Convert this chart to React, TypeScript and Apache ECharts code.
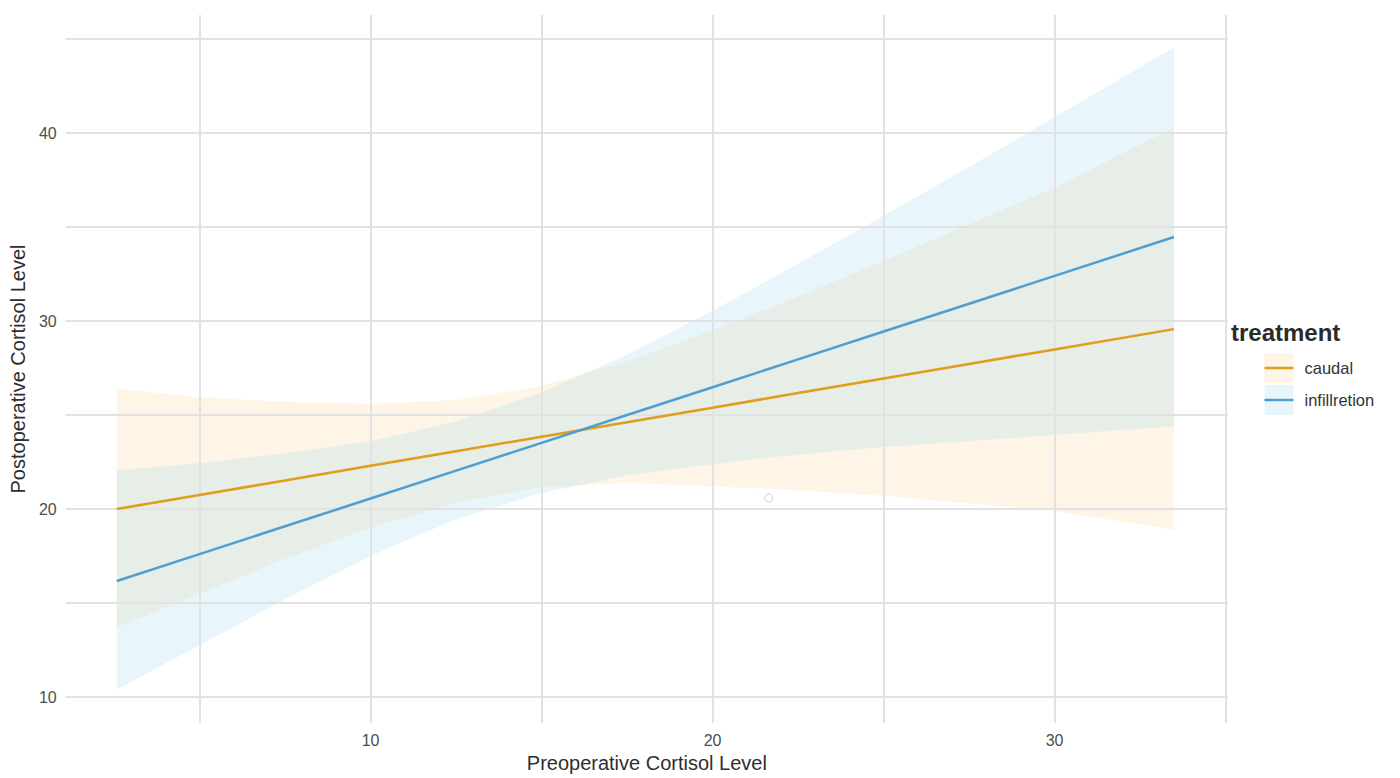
import React, { useEffect, useRef } from "react";
import * as echarts from "echarts";

const FONT = "'Liberation Sans', Arial, Helvetica, sans-serif";

// Preoperative cortisol level (x) at which the fitted lines / bands are read
const xs = [2.58, 5, 7.5, 10, 12.5, 15, 17.5, 20, 22.5, 25, 27.5, 30, 33.49];

// caudal
const caudalFit = [20.0, 20.75, 21.52, 22.3, 23.07, 23.85, 24.62, 25.39, 26.17, 26.94, 27.72, 28.49, 29.57];
const caudalLower = [13.7, 15.5, 17.35, 19.0, 20.35, 21.15, 21.4, 21.2, 21.0, 20.7, 20.3, 19.9, 18.9];
const caudalUpper = [26.4, 25.95, 25.7, 25.6, 25.8, 26.55, 27.85, 29.5, 31.3, 33.2, 35.15, 37.1, 40.3];

// infillretion
const infilFit = [16.17, 17.6, 19.08, 20.56, 22.04, 23.52, 25.0, 26.48, 27.96, 29.44, 30.92, 32.4, 34.47];
const infilLower = [10.4, 12.75, 15.2, 17.5, 19.45, 20.85, 21.8, 22.4, 22.9, 23.3, 23.6, 23.95, 24.4];
const infilUpper = [22.05, 22.45, 22.95, 23.6, 24.65, 26.2, 28.2, 30.55, 33.05, 35.6, 38.2, 40.85, 44.55];

// stray point visible in the plot
const strayPoint = [[21.64, 20.59]];

const xTicks = [10, 20, 30];
const yTicks = [10, 20, 30, 40];
const xGrid = [5, 10, 15, 20, 25, 30, 35];
const yGrid = [10, 15, 20, 25, 30, 35, 40, 45];

const groups = ["caudal", "infillretion"];
const lineColors = ["#DE9D1B", "#4F9ED1"];
const fillColors = ["rgba(245,190,90,0.15)", "rgba(120,200,240,0.17)"];

const pairs = (a: number[]) => xs.map((x, i) => [x, a[i]]);

const bandSeries = (lower: number[], upper: number[], color: string, z: number) => ({
  type: "custom",
  z,
  silent: true,
  data: [[xs[0], lower[0]]],
  renderItem: (_params: any, api: any) => {
    const top = xs.map((x, i) => api.coord([x, upper[i]]));
    const bottom = xs.map((x, i) => api.coord([x, lower[i]])).reverse();
    return {
      type: "polygon",
      shape: { points: [...top, ...bottom] },
      style: { fill: color },
    };
  },
});

export default function App() {
  const ref = useRef<HTMLDivElement>(null);
  useEffect(() => {
    document.body.style.margin = "0";
    const chart = echarts.init(ref.current!, null, { renderer: "svg" });
    const gridLine = { color: "#e2e2e2", width: 2, type: "solid" as const };
    const option: any = {
      animation: false,
      backgroundColor: "#ffffff",
      grid: { left: 64, right: 172, top: 15, bottom: 55 },
      xAxis: {
        type: "value",
        min: 1.086,
        max: 35.07,
        name: "Preoperative Cortisol Level",
        nameLocation: "middle",
        nameGap: 27,
        nameTextStyle: { fontSize: 20, color: "#2e2e2e", fontFamily: FONT },
        axisLine: { show: false },
        axisTick: { show: false },
        splitLine: { show: false },
        axisLabel: { customValues: xTicks, fontSize: 16, color: "#4d4d4d", margin: 9, fontFamily: FONT },
      },
      yAxis: {
        type: "value",
        min: 8.617,
        max: 46.28,
        name: "Postoperative Cortisol Level",
        nameLocation: "middle",
        nameGap: 33,
        nameTextStyle: { fontSize: 20, color: "#2e2e2e", fontFamily: FONT },
        axisLine: { show: false },
        axisTick: { show: false },
        splitLine: { show: false },
        axisLabel: { customValues: yTicks, fontSize: 16, color: "#4d4d4d", margin: 9, fontFamily: FONT },
      },
      series: [
        {
          type: "scatter",
          z: 1,
          data: strayPoint,
          symbol: "circle",
          symbolSize: 8,
          silent: true,
          itemStyle: { color: "#ffffff", borderColor: "#c4c4c4", borderWidth: 1 },
          markLine: {
            silent: true,
            symbol: ["none", "none"],
            label: { show: false },
            lineStyle: gridLine,
            data: [...xGrid.map((v) => ({ xAxis: v })), ...yGrid.map((v) => ({ yAxis: v }))],
          },
        },
        bandSeries(caudalLower, caudalUpper, fillColors[0], 2),
        bandSeries(infilLower, infilUpper, fillColors[1], 3),
        {
          name: groups[0], type: "line", z: 5, data: pairs(caudalFit), symbol: "none",
          lineStyle: { color: lineColors[0], width: 2.5 },
        },
        {
          name: groups[1], type: "line", z: 5, data: pairs(infilFit), symbol: "none",
          lineStyle: { color: lineColors[1], width: 2.5 },
        },
      ],
      graphic: [
        {
          type: "text", left: 1231, top: 320,
          style: { text: "treatment", fontSize: 24, fontWeight: "bold", fill: "#2a2a2a", fontFamily: FONT },
        },
        ...groups.map((g, i) => ({
          type: "group",
          left: 1262,
          top: 353 + i * 32,
          children: [
            { type: "rect", shape: { x: 0, y: 0, width: 29, height: 30 }, style: { fill: fillColors[i] } },
            { type: "line", shape: { x1: 0, y1: 15, x2: 29, y2: 15 }, style: { stroke: lineColors[i], lineWidth: 2.5 } },
            {
              type: "text", x: 40, y: 15,
              style: { text: g, fontSize: 16.5, fill: "#333333", fontFamily: FONT, textVerticalAlign: "middle" },
            },
          ],
        })),
      ],
    };
    chart.setOption(option);
    return () => chart.dispose();
  }, []);
  return <div ref={ref} style={{ width: 1400, height: 778, position: "absolute", left: 0, top: 0 }} />;
}
